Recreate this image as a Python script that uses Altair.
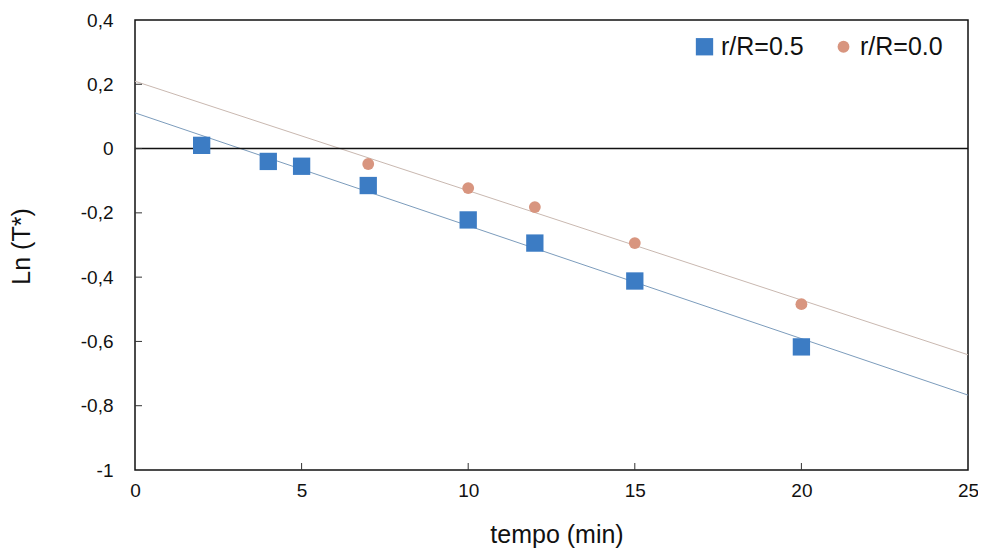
import altair as alt
import pandas as pd

# data
t_05 = [2, 4, 5, 7, 10, 12, 15, 20]
y_05 = [0.01, -0.04, -0.055, -0.115, -0.222, -0.294, -0.412, -0.617]
t_00 = [7, 10, 12, 15, 20]
y_00 = [-0.048, -0.123, -0.182, -0.294, -0.484]
series = ["r/R=0.5", "r/R=0.0"]
x_ticks = [0, 5, 10, 15, 20, 25]
y_ticks = [-1, -0.8, -0.6, -0.4, -0.2, 0, 0.2, 0.4]

df = pd.DataFrame(
    {"t": t_05 + t_00,
     "y": y_05 + y_00,
     "serie": [series[0]] * len(t_05) + [series[1]] * len(t_00)}
)

FONT = "Liberation Sans"
W, H = 833, 450
xs = alt.Scale(domain=[0, 25], nice=False, zero=False)
ys = alt.Scale(domain=[-1, 0.4], nice=False, zero=False)
comma = "replace(toString(datum.value), '.', ',')"

xaxis = alt.Axis(values=x_ticks, ticks=False, domain=False, grid=False, labelFlush=False,
                 labelFontSize=19, labelFont=FONT, labelColor="#111", labelPadding=11,
                 labelExpr=comma, title="tempo (min)", titleFont=FONT, titleFontSize=25,
                 titleFontWeight="normal", titleColor="#111", titleX=W / 2 + 5, titleY=64,
                 titleBaseline="middle", titleAlign="center")
yaxis = alt.Axis(values=y_ticks, ticks=False, domain=False, grid=False, labelFlush=False,
                 labelFontSize=19, labelFont=FONT, labelColor="#111", labelPadding=22,
                 labelExpr=comma, title="Ln (T*)", titleFont=FONT, titleFontSize=25,
                 titleFontWeight="normal", titleColor="#111", titleX=-114, titleY=H / 2 + 1,
                 titleBaseline="middle", titleAlign="center", titleAngle=-90)

color_scale = alt.Scale(domain=series, range=["#3c7cc4", "#d8957f"])
shape_scale = alt.Scale(domain=series, range=["square", "circle"])
size_scale = alt.Scale(domain=series, range=[300, 140])

base = alt.Chart(df)

reg05 = base.transform_filter(alt.datum.serie == series[0]).transform_regression(
    "t", "y", extent=[0, 25]).mark_line(color="#7c9cbc", strokeWidth=1).encode(
    x=alt.X("t:Q", scale=xs, axis=xaxis), y=alt.Y("y:Q", scale=ys, axis=yaxis))
reg00 = base.transform_filter(alt.datum.serie == series[1]).transform_regression(
    "t", "y", extent=[0, 25]).mark_line(color="#c9b8b0", strokeWidth=1).encode(
    x=alt.X("t:Q", scale=xs), y=alt.Y("y:Q", scale=ys))

zero = alt.Chart(pd.DataFrame({"z": [0]})).mark_rule(color="#111", strokeWidth=1.5).encode(
    y=alt.Y("z:Q", scale=ys))

xt = alt.Chart(pd.DataFrame({"v": x_ticks[1:-1]})).mark_rule(color="#333", strokeWidth=1).encode(
    x=alt.X("v:Q", scale=xs), y=alt.value(H), y2=alt.value(H - 7))
yt = alt.Chart(pd.DataFrame({"v": y_ticks[1:-1]})).mark_rule(color="#333", strokeWidth=1).encode(
    y=alt.Y("v:Q", scale=ys), x=alt.value(0), x2=alt.value(7))

pts = base.mark_point(filled=True, opacity=1).encode(
    x=alt.X("t:Q", scale=xs),
    y=alt.Y("y:Q", scale=ys),
    color=alt.Color("serie:N", scale=color_scale, title=None,
                    legend=alt.Legend(orient="none", legendX=557, legendY=14,
                                      direction="horizontal", labelFontSize=25,
                                      labelFont=FONT, labelColor="#111",
                                      columnPadding=27, labelOffset=4)),
    shape=alt.Shape("serie:N", scale=shape_scale, title=None),
    size=alt.Size("serie:N", scale=size_scale, title=None),
)

chart = alt.layer(reg00, reg05, zero, xt, yt, pts).properties(
    width=W, height=H,
    background="white",
    padding={"left": 127, "top": 12, "right": 10, "bottom": 78},
    autosize=alt.AutoSizeParams(type="none"),
).configure_view(stroke="#111", strokeWidth=1.5)

chart.save("out.html", embed_options={"renderer": "svg", "actions": False})
